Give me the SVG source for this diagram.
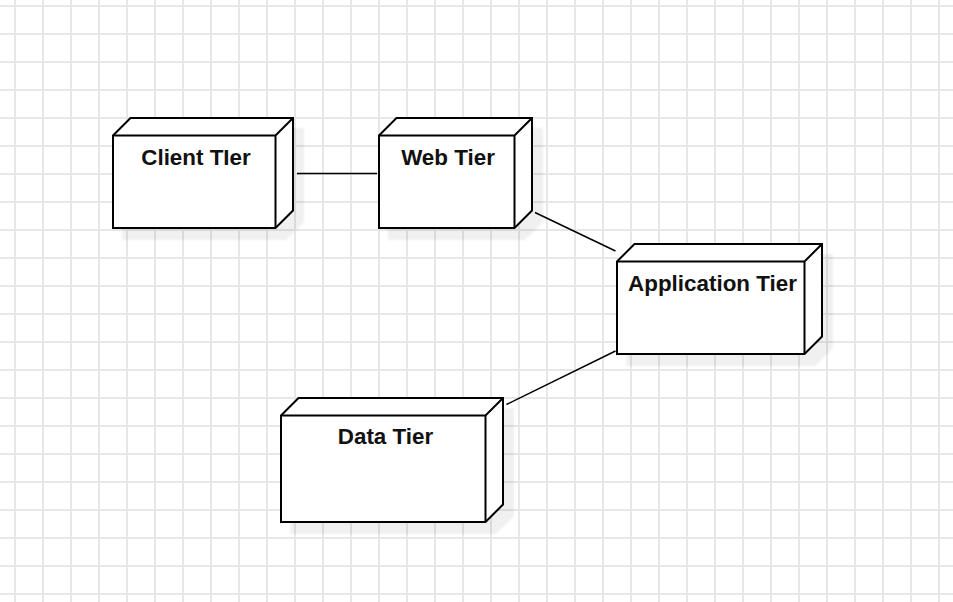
<svg xmlns="http://www.w3.org/2000/svg" width="953" height="602" viewBox="0 0 953 602">
  <style>
    .box { fill: #ffffff; stroke: #000000; stroke-width: 2; stroke-linejoin: miter; }
    .edge { fill: none; stroke: #000000; stroke-width: 2; }
    .conn { fill: none; stroke: #000000; stroke-width: 1.5; }
    .label { font-family: "Liberation Sans", Arial, Helvetica, sans-serif; font-weight: bold; font-size: 22.4px; fill: #111111; text-anchor: middle; }
  </style>
  <defs>
    <pattern id="grid" width="28" height="28" patternUnits="userSpaceOnUse" x="1" y="-8">
      <path d="M14 0 V28 M0 14 H28" stroke="#e7e7e7" stroke-width="2" fill="none"/>
    </pattern>
    <filter id="shadow" x="-10%" y="-10%" width="130%" height="130%">
      <feOffset in="SourceAlpha" dx="10" dy="11" result="off"/>
      <feGaussianBlur in="off" stdDeviation="1.2" result="blur"/>
      <feFlood flood-color="#000000" flood-opacity="0.06"/>
      <feComposite in2="blur" operator="in" result="sh"/>
      <feMerge>
        <feMergeNode in="sh"/>
        <feMergeNode in="SourceGraphic"/>
      </feMerge>
    </filter>
  </defs>

  <rect x="0" y="0" width="953" height="602" fill="#ffffff"/>
  <rect x="0" y="0" width="953" height="602" fill="url(#grid)"/>

  <g id="connectors">
    <line class="conn" x1="297" y1="173.5" x2="377" y2="173.5"/>
    <line class="conn" x1="535" y1="212.5" x2="615.5" y2="251"/>
    <line class="conn" x1="615.5" y1="351" x2="506.5" y2="404.5"/>
  </g>

  <g id="client-tier">
    <g filter="url(#shadow)">
      <path class="box" d="M113 135.5 L130.5 118 L293 118 L293 210.5 L275.5 228 L113 228 Z"/>
    </g>
    <path class="edge" d="M113 135.5 L275.5 135.5 L293 118 M275.5 135.5 L275.5 228"/>
    <text class="label" x="196" y="165">Client TIer</text>
  </g>

  <g id="web-tier">
    <g filter="url(#shadow)">
      <path class="box" d="M379 135.5 L396.5 118 L532 118 L532 210.5 L514.5 228 L379 228 Z"/>
    </g>
    <path class="edge" d="M379 135.5 L514.5 135.5 L532 118 M514.5 135.5 L514.5 228"/>
    <text class="label" x="448" y="164.5">Web Tier</text>
  </g>

  <g id="application-tier">
    <g filter="url(#shadow)">
      <path class="box" d="M617 261.5 L634.5 244 L822 244 L822 336.5 L804.5 354 L617 354 Z"/>
    </g>
    <path class="edge" d="M617 261.5 L804.5 261.5 L822 244 M804.5 261.5 L804.5 354"/>
    <text class="label" x="712.5" y="290.5">Application Tier</text>
  </g>

  <g id="data-tier">
    <g filter="url(#shadow)">
      <path class="box" d="M281 415.5 L298.5 398 L503 398 L503 504.5 L485.5 522 L281 522 Z"/>
    </g>
    <path class="edge" d="M281 415.5 L485.5 415.5 L503 398 M485.5 415.5 L485.5 522"/>
    <text class="label" x="385.5" y="444">Data Tier</text>
  </g>
</svg>
